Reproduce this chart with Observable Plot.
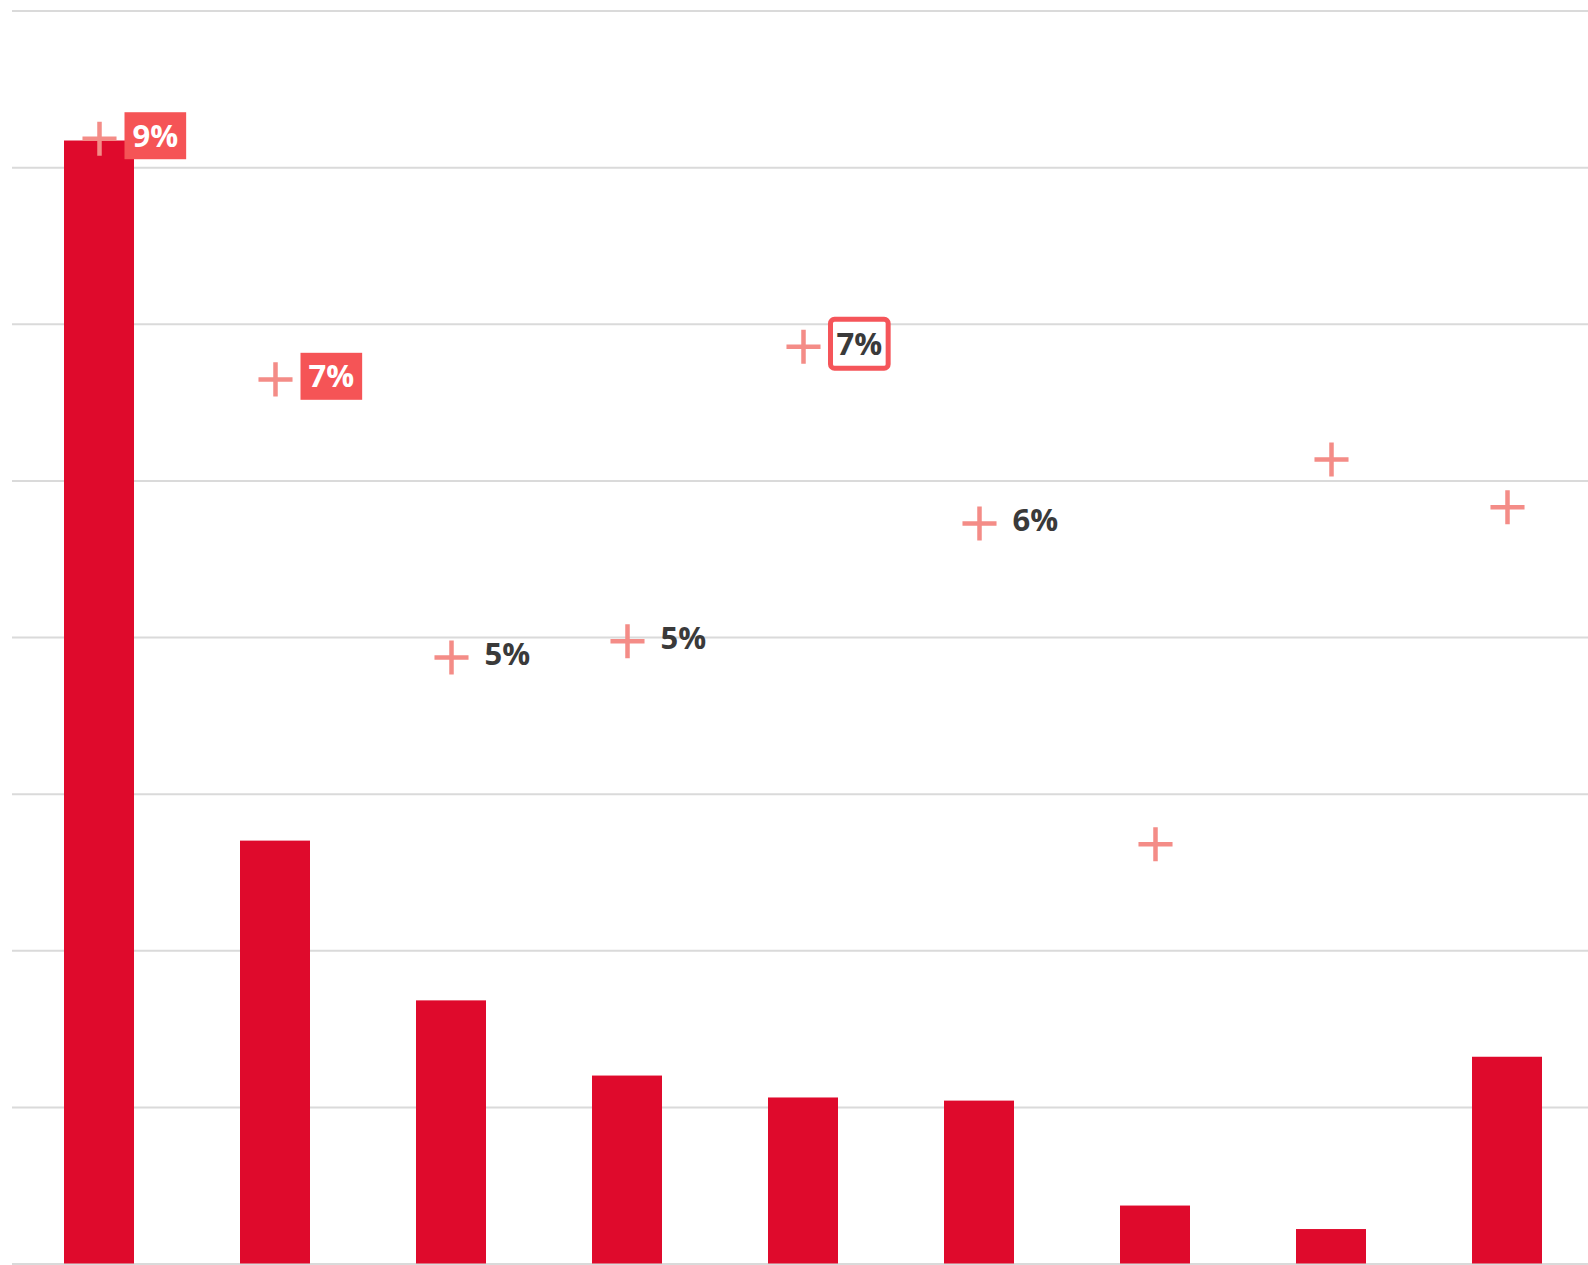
<!DOCTYPE html>
<html><head><meta charset="utf-8">
<script src="https://cdn.jsdelivr.net/npm/d3@7"></script>
<script src="https://cdn.jsdelivr.net/npm/@observablehq/plot@0.6"></script>
<style>html,body{margin:0;padding:0;background:#fff;overflow:hidden}</style>
</head><body><div id="chart"></div>
<script>
// Categories (no visible labels in the reference)
const categories = ["1", "2", "3", "4", "5", "6", "7", "8", "9"];
// Bar values (left scale, gridlines at every unit 0..8)
const barValues = [7.17, 2.70, 1.68, 1.20, 1.06, 1.04, 0.37, 0.22, 1.32];
// Percent values shown by the plus markers (right scale 0..10 %)
const pctValues = [8.98, 7.06, 4.84, 4.97, 7.32, 5.91, 3.35, 6.42, 6.04];
const pctLabels = ["9%", "7%", "5%", "5%", "7%", "6%", "", "", ""];
const labelStyles = ["filled", "filled", "plain", "plain", "outlined", "plain", "none", "none", "none"];
const gridTicks = [0, 1, 2, 3, 4, 5, 6, 7, 8];

const rows = categories.map((c, i) => ({
  category: c, bar: barValues[i], pct: pctValues[i], label: pctLabels[i], style: labelStyles[i]
}));
const pctToY = p => p * 8 / 10; // 10 % aligns with the top gridline

const textOpts = {
  x: "category", y: d => pctToY(d.pct), text: "label",
  textAnchor: "start", dx: 33, dy: -2, fontSize: 31, fontWeight: 700
};

const chart = Plot.plot({
  width: 1588, height: 1265,
  marginTop: 10.5, marginBottom: 1.5, marginLeft: 12, marginRight: 0,
  x: {domain: categories, range: [8, 1599], paddingInner: 0.6, paddingOuter: 0.3, axis: null},
  y: {domain: [0, 8], axis: null},
  style: {background: "#fff", fontFamily: "'Open Sans', sans-serif"},
  marks: [
    Plot.ruleY(gridTicks, {stroke: "#dadada", strokeWidth: 2}),
    Plot.barY(rows, {x: "category", y: "bar", fill: "#df0a2c"}),
    Plot.dot(rows, {x: "category", y: d => pctToY(d.pct), symbol: "plus", r: 11, stroke: "#f48c87", strokeWidth: 4.5}),
    Plot.text(rows.filter(d => d.style === "filled"), {...textOpts, fill: "#fff"}),
    Plot.text(rows.filter(d => d.style === "outlined"), {...textOpts, fill: "#3a3a3a"}),
    Plot.text(rows.filter(d => d.style === "plain"), {...textOpts, fill: "#3a3a3a"})
  ]
});
document.getElementById("chart").appendChild(chart);

// Label boxes behind the text labels
const textGroups = chart.querySelectorAll("g[aria-label='text']");
function boxify(group, kind) {
  if (!group) return;
  group.querySelectorAll("text").forEach(t => {
    const bb = t.getBBox();
    const cy = bb.y + bb.height / 2 + 1;
    const r = document.createElementNS("http://www.w3.org/2000/svg", "rect");
    const tr = t.getAttribute("transform");
    if (tr) r.setAttribute("transform", tr);
    if (kind === "filled") {
      r.setAttribute("x", bb.x - 8);
      r.setAttribute("width", bb.width + 16);
      r.setAttribute("y", cy - 23.5);
      r.setAttribute("height", 47);
      r.setAttribute("fill", "#f55456");
    } else {
      r.setAttribute("x", bb.x - 6);
      r.setAttribute("width", bb.width + 12);
      r.setAttribute("y", cy - 24.5);
      r.setAttribute("height", 49);
      r.setAttribute("fill", "#fff");
      r.setAttribute("stroke", "#f5555a");
      r.setAttribute("stroke-width", 5);
      r.setAttribute("rx", 4);
    }
    t.parentNode.insertBefore(r, t);
  });
}
boxify(textGroups[0], "filled");
boxify(textGroups[1], "outlined");
</script>
</body></html>
